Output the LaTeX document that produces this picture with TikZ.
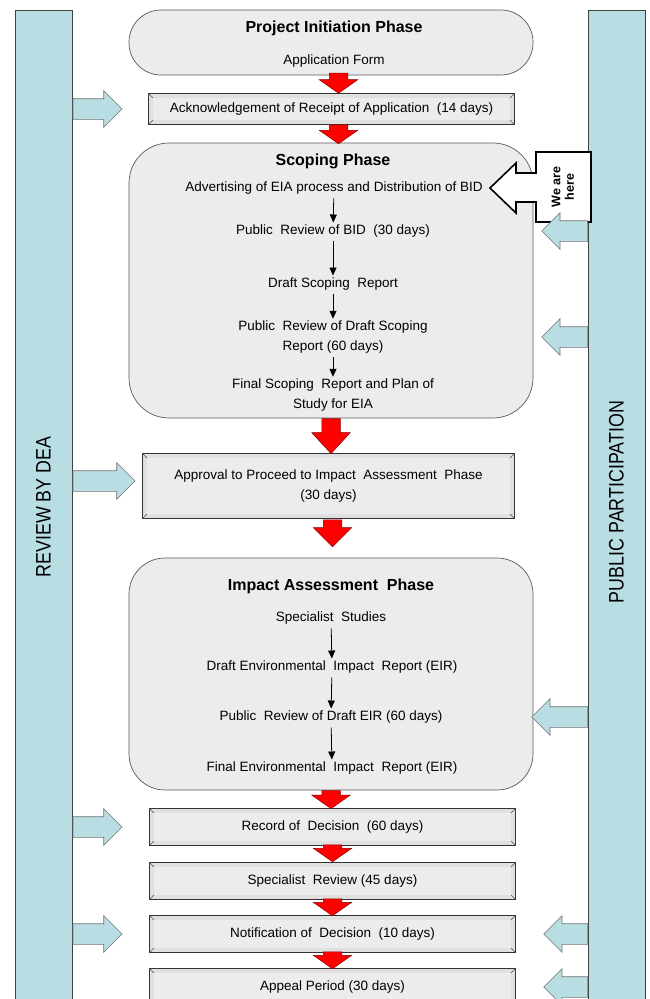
\documentclass[tikz,border=0pt]{standalone}
\usepackage{fontspec}
\setmainfont{Liberation Sans}
\newfontfamily\barfont[FakeStretch=0.85]{Liberation Sans}
\usetikzlibrary{shapes.arrows,arrows.meta,calc}

\definecolor{paleblue}{RGB}{184,222,227}
\definecolor{boxgray}{RGB}{236,236,236}
\definecolor{bevelgray}{RGB}{224,224,224}

\tikzset{
  sidebar/.style={draw=black!75, fill=paleblue, line width=0.7pt, inner sep=0pt},
  barlabel/.style={rotate=90, font=\barfont\fontsize{21}{21}\selectfont},
  phase/.style={draw=black!65, fill=boxgray, line width=0.7pt, inner sep=0pt},
  phasetitle/.style={font=\bfseries\fontsize{16}{19}\selectfont},
  steptext/.style={font=\fontsize{13.5}{19.5}\selectfont, align=center, inner sep=1pt},
  bevelbox/.style={draw=black!80, double=bevelgray, double distance=4pt, fill=boxgray,
    inner sep=0pt, align=center, font=\fontsize{13.5}{19.5}\selectfont},
  steparrow/.style={-{Triangle[width=7pt,length=8pt]}, line width=0.8pt,
    shorten <=3pt, shorten >=1pt},
  redarrow/.style={single arrow, rotate=-90, draw=red!55!black, fill=red,
    inner xsep=0pt, inner ysep=9pt, single arrow head extend=10pt,
    single arrow tip angle=110, line width=0.5pt},
  bluearrow/.style={single arrow, draw=black!55, fill=paleblue,
    inner xsep=0pt, inner ysep=10pt, single arrow head extend=8pt, line width=0.6pt},
  callout/.style={draw=black, fill=white, line width=1.6pt, line join=miter},
}

% diagonal lines in the corners of a bevel box
\newcommand{\bevelcorners}[1]{%
  \foreach \c/\a/\b in {north west/{-2.4pt,2.4pt}/{2.4pt,-2.4pt},
                        north east/{2.4pt,2.4pt}/{-2.4pt,-2.4pt},
                        south west/{-2.4pt,-2.4pt}/{2.4pt,2.4pt},
                        south east/{2.4pt,-2.4pt}/{-2.4pt,2.4pt}}
    \draw[black!70, line width=0.5pt] ([shift={(\a)}]#1.\c) -- ([shift={(\b)}]#1.\c);
}

\begin{document}
\begin{tikzpicture}[x=1pt, y=-1pt]
  \useasboundingbox (0,0) rectangle (650,999);

  % side bars
  \node[sidebar, anchor=north west, minimum width=57pt, minimum height=1000pt] (dea) at (15,10) {};
  \node[sidebar, anchor=north west, minimum width=57pt, minimum height=1000pt] (pp) at (588,10) {};
  \node[barlabel] (dealabel) at (43.5,507) {REVIEW BY DEA};
  \node[barlabel] (pplabel) at (616.5,502) {PUBLIC PARTICIPATION};

  % project initiation
  \node[phase, rounded corners=32pt, minimum width=404pt, minimum height=65pt] (init) at (331,42.5) {};
  \node[phasetitle] (initt) at (334,28) {Project Initiation Phase};
  \node[steptext] (form) at (334,61) {Application Form};

  \node[bevelbox, minimum width=361.6pt, minimum height=26.6pt] (ack) at (331.5,109)
    {Acknowledgement of Receipt of Application \ (14 days)};
  \bevelcorners{ack}

  % scoping phase
  \node[phase, rounded corners=40pt, minimum width=404pt, minimum height=275pt] (scoping) at (331,280.5) {};
  \node[phasetitle] (scopingt) at (333,161) {Scoping Phase};
  \node[steptext] (advert) at (334,188) {Advertising of EIA process and Distribution of BID};
  \node[steptext] (bidrev) at (333,231) {Public \ Review of BID \ (30 days)};
  \node[steptext] (dsr) at (333,284) {Draft Scoping \ Report};
  \node[steptext] (dsrrev) at (333,337) {Public \ Review of Draft Scoping\\Report (60 days)};
  \node[steptext] (fsr) at (333,395) {Final Scoping \ Report and Plan of\\Study for EIA};
  \draw[steparrow] (advert) -- (bidrev);
  \draw[steparrow] (bidrev) -- (dsr);
  \draw[steparrow] (dsr) -- (dsrrev);
  \draw[steparrow] (dsrrev) -- (fsr);

  % we are here
  \draw[callout] (536,152) -- (591,152) -- (591,222) -- (536,222) -- (536,202)
    -- (516,202) -- (516,213) -- (490,188) -- (516,163) -- (516,173) -- (536,173) -- cycle;
  \node[rotate=90, align=center, font=\bfseries\fontsize{12.5}{13.5}\selectfont] (here) at (563,187) {We are\\here};

  \node[bevelbox, minimum width=367.6pt, minimum height=60.6pt] (approve) at (328.5,486)
    {Approval to Proceed to Impact \ Assessment \ Phase\\(30 days)};
  \bevelcorners{approve}

  % impact assessment phase
  \node[phase, rounded corners=36pt, minimum width=404pt, minimum height=232pt] (impact) at (331,674) {};
  \node[phasetitle] (impactt) at (331,586) {Impact Assessment \ Phase};
  \node[steptext] (studies) at (331,618) {Specialist \ Studies};
  \node[steptext] (deir) at (332,667) {Draft Environmental \ Impact \ Report (EIR)};
  \node[steptext] (eirrev) at (331,717) {Public \ Review of Draft EIR (60 days)};
  \node[steptext] (feir) at (332,768) {Final Environmental \ Impact \ Report (EIR)};
  \draw[steparrow] (studies) -- (deir);
  \draw[steparrow] (deir) -- (eirrev);
  \draw[steparrow] (eirrev) -- (feir);

  % decision boxes
  \node[bevelbox, minimum width=361.6pt, minimum height=32.6pt] (record) at (332.5,827) {Record of \ Decision \ (60 days)};
  \node[bevelbox, minimum width=361.6pt, minimum height=32.6pt] (review) at (332.5,881) {Specialist \ Review (45 days)};
  \node[bevelbox, minimum width=361.6pt, minimum height=32.6pt] (notify) at (332.5,934) {Notification of \ Decision \ (10 days)};
  \node[bevelbox, minimum width=361.6pt, minimum height=32.6pt] (appeal) at (332.5,987) {Appeal Period (30 days)};
  \foreach \n in {record,review,notify,appeal}
    \bevelcorners{\n};

  % red arrows between the phases
  \node[redarrow, minimum height=20pt, anchor=tip] (r1) at ([xshift=7pt,yshift=2pt]ack.north) {};
  \node[redarrow, minimum height=19pt, anchor=tail] (r2) at ([xshift=7pt,yshift=-2pt]ack.south) {};
  \node[redarrow, minimum height=35pt, single arrow tip angle=85, anchor=tail] (r3) at (scoping.south) {};
  \node[redarrow, minimum height=27pt, single arrow tip angle=90, anchor=tail] (r4) at ([xshift=4pt,yshift=-3pt]approve.south) {};
  \node[redarrow, minimum height=18pt, anchor=tail] (r5) at (impact.south) {};
  \node[redarrow, minimum height=17pt, anchor=tail] (r6) at ([yshift=-1pt]record.south) {};
  \node[redarrow, minimum height=17pt, anchor=tail] (r7) at ([yshift=-1pt]review.south) {};
  \node[redarrow, minimum height=17pt, anchor=tail] (r8) at ([yshift=-1pt]notify.south) {};

  % review by DEA
  \node[bluearrow, minimum height=49pt, anchor=tail] (d1) at (dea.east |- ack) {};
  \node[bluearrow, minimum height=62pt, anchor=tail] (d2) at ([yshift=5pt]dea.east |- approve) {};
  \node[bluearrow, minimum height=49pt, anchor=tail] (d3) at (dea.east |- record) {};
  \node[bluearrow, minimum height=49pt, anchor=tail] (d4) at (dea.east |- notify) {};

  % public participation
  \node[bluearrow, shape border rotate=180, minimum height=46pt, anchor=tail] (p1) at (pp.west |- bidrev) {};
  \node[bluearrow, shape border rotate=180, minimum height=46pt, anchor=tail] (p2) at (pp.west |- dsrrev) {};
  \node[bluearrow, shape border rotate=180, minimum height=56pt, anchor=tail] (p3) at (pp.west |- eirrev) {};
  \node[bluearrow, shape border rotate=180, minimum height=44pt, anchor=tail] (p4) at (pp.west |- notify) {};
  \node[bluearrow, shape border rotate=180, minimum height=44pt, anchor=tail] (p5) at (pp.west |- appeal) {};
\end{tikzpicture}
\end{document}
